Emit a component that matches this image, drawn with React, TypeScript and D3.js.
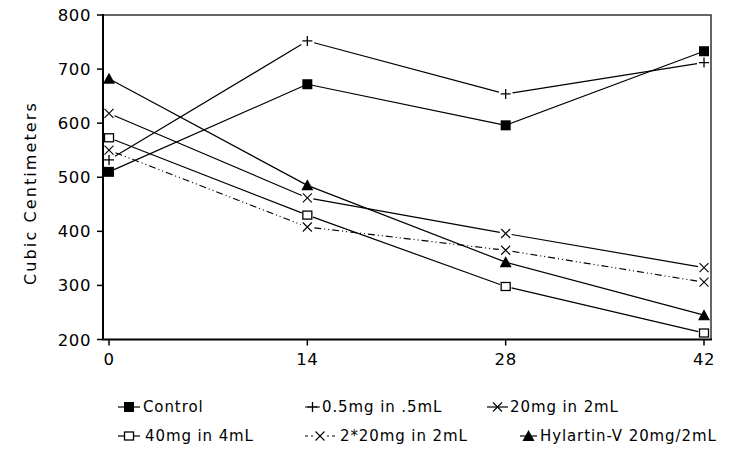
import React from 'react';
import * as d3 from 'd3';

const days = [0, 14, 28, 42];
const yTicks = [200, 300, 400, 500, 600, 700, 800];

const control = [510, 672, 596, 733];
const dose05 = [532, 752, 654, 712];
const dose20 = [618, 462, 396, 333];
const dose40 = [573, 430, 298, 212];
const dose2x20 = [550, 408, 365, 306];
const hylartin = [682, 485, 343, 245];

const seriesNames = [
  'Control',
  '0.5mg in .5mL',
  '20mg in 2mL',
  '40mg in 4mL',
  '2*20mg in 2mL',
  'Hylartin-V 20mg/2mL',
];

type Marker = 'fsquare' | 'plus' | 'cross' | 'osquare' | 'triangle';

const series = [
  { name: seriesNames[0], values: control, marker: 'fsquare' as Marker, dash: '', gap: 0 },
  { name: seriesNames[1], values: dose05, marker: 'plus' as Marker, dash: '', gap: 7 },
  { name: seriesNames[2], values: dose20, marker: 'cross' as Marker, dash: '', gap: 6 },
  { name: seriesNames[3], values: dose40, marker: 'osquare' as Marker, dash: '', gap: 6 },
  { name: seriesNames[4], values: dose2x20, marker: 'cross' as Marker, dash: '7,3,1,3,1,3', gap: 7 },
  { name: seriesNames[5], values: hylartin, marker: 'triangle' as Marker, dash: '', gap: 0 },
];

const FONT = '"DejaVu Sans", sans-serif';

function MarkerShape({ type, x, y }: { type: Marker; x: number; y: number }) {
  if (type === 'fsquare') return <rect x={x - 5} y={y - 5} width={10} height={10} fill="#000" />;
  if (type === 'osquare')
    return <rect x={x - 4.5} y={y - 4} width={9} height={8} fill="#fff" stroke="#000" strokeWidth={1.3} />;
  if (type === 'plus')
    return (
      <path d={`M${x - 5},${y}H${x + 5}M${x},${y - 5}V${y + 5}`} stroke="#000" strokeWidth={1.3} />
    );
  if (type === 'cross')
    return (
      <path d={`M${x - 4.5},${y - 4.5}L${x + 4.5},${y + 4.5}M${x + 4.5},${y - 4.5}L${x - 4.5},${y + 4.5}`} stroke="#000" strokeWidth={1.1} />
    );
  return <path d={`M${x},${y - 6}L${x + 6},${y + 5}H${x - 6}Z`} fill="#000" />;
}

// legend layout: symbol start, symbol end, text start, row y
const legendPos = [
  { sx: 118, ex: 140, tx: 143, ly: 407 },
  { sx: 305, ex: 320, tx: 322, ly: 407 },
  { sx: 487, ex: 508, tx: 510, ly: 407 },
  { sx: 118, ex: 140, tx: 145, ly: 436 },
  { sx: 305, ex: 335, tx: 340, ly: 436 },
  { sx: 520, ex: 537, tx: 540, ly: 436 },
];

export default function App() {
  const width = 748;
  const height = 462;
  const x = d3.scaleLinear().domain([0, 42]).range([109, 704]);
  const y = d3.scaleLinear().domain([200, 800]).range([339.5, 15]);
  const left = 103;
  const right = 711;
  const top = y(800);
  const bottom = y(200);

  const segments = (vals: number[], gap: number) => {
    const pts = vals.map((v, i) => [x(days[i]), y(v)] as [number, number]);
    const out: string[] = [];
    for (let i = 0; i < pts.length - 1; i++) {
      const [x0, y0] = pts[i];
      const [x1, y1] = pts[i + 1];
      const len = Math.hypot(x1 - x0, y1 - y0);
      const ux = (x1 - x0) / len;
      const uy = (y1 - y0) / len;
      out.push(`M${x0 + ux * gap},${y0 + uy * gap}L${x1 - ux * gap},${y1 - uy * gap}`);
    }
    return out.join('');
  };

  return (
    <svg width={width} height={height} style={{ position: 'absolute', left: 0, top: 0, background: '#fff' }}>
      {/* frame */}
      <path d={`M${left},${top}H${right}V${bottom}`} fill="none" stroke="#333" strokeWidth={1.5} />
      <path d={`M${left},${top - 1}V${bottom}H${right + 1}`} fill="none" stroke="#000" strokeWidth={2} />

      {/* y axis */}
      {yTicks.map((t) => (
        <g key={t}>
          <line x1={left - 6} x2={left} y1={y(t)} y2={y(t)} stroke="#000" strokeWidth={1.5} />
          <text x={left - 12} y={y(t) + 6} textAnchor="end" fontFamily={FONT} fontSize={16.5} letterSpacing={0.6} fill="#000">
            {t}
          </text>
        </g>
      ))}
      <text
        transform={`translate(36,193) rotate(-90)`}
        textAnchor="middle"
        fontFamily={FONT}
        fontSize={16}
        letterSpacing={2.1}
        fill="#000"
      >
        Cubic Centimeters
      </text>

      {/* x axis */}
      {days.map((d) => (
        <g key={d}>
          <line x1={x(d)} x2={x(d)} y1={bottom} y2={bottom + 6} stroke="#000" strokeWidth={1.5} />
          <text x={x(d)} y={bottom + 25} textAnchor="middle" fontFamily={FONT} fontSize={16.5} letterSpacing={0.6} fill="#000">
            {d}
          </text>
        </g>
      ))}

      {/* lines */}
      {series.map((s) => (
        <path key={s.name} d={segments(s.values, s.gap)} fill="none" stroke="#000" strokeWidth={1.2} strokeDasharray={s.dash || undefined} />
      ))}
      {series.map((s) =>
        s.values.map((v, i) => <MarkerShape key={s.name + i} type={s.marker} x={x(days[i])} y={y(v)} />)
      )}

      {/* legend */}
      {series.map((s, i) => {
        const { sx, ex, tx, ly } = legendPos[i];
        const mid = (sx + ex) / 2;
        let d = `M${sx},${ly}H${ex}`;
        if (s.dash !== '') {
          d = `M${sx},${ly}H${sx + 3}M${sx + 6},${ly}H${sx + 8}M${ex - 8},${ly}H${ex - 6}M${ex - 3},${ly}H${ex}`;
        } else if (s.marker === 'plus') {
          d = `M${sx},${ly}H${sx + 4}M${ex - 4},${ly}H${ex}`;
        }
        return (
          <g key={'lg' + s.name}>
            <path d={d} stroke="#000" strokeWidth={1.2} />
            <MarkerShape type={s.marker} x={mid} y={ly} />
            <text x={tx} y={ly + 5} fontFamily={FONT} fontSize={15} letterSpacing={0.9} fill="#000">
              {s.name}
            </text>
          </g>
        );
      })}
    </svg>
  );
}
